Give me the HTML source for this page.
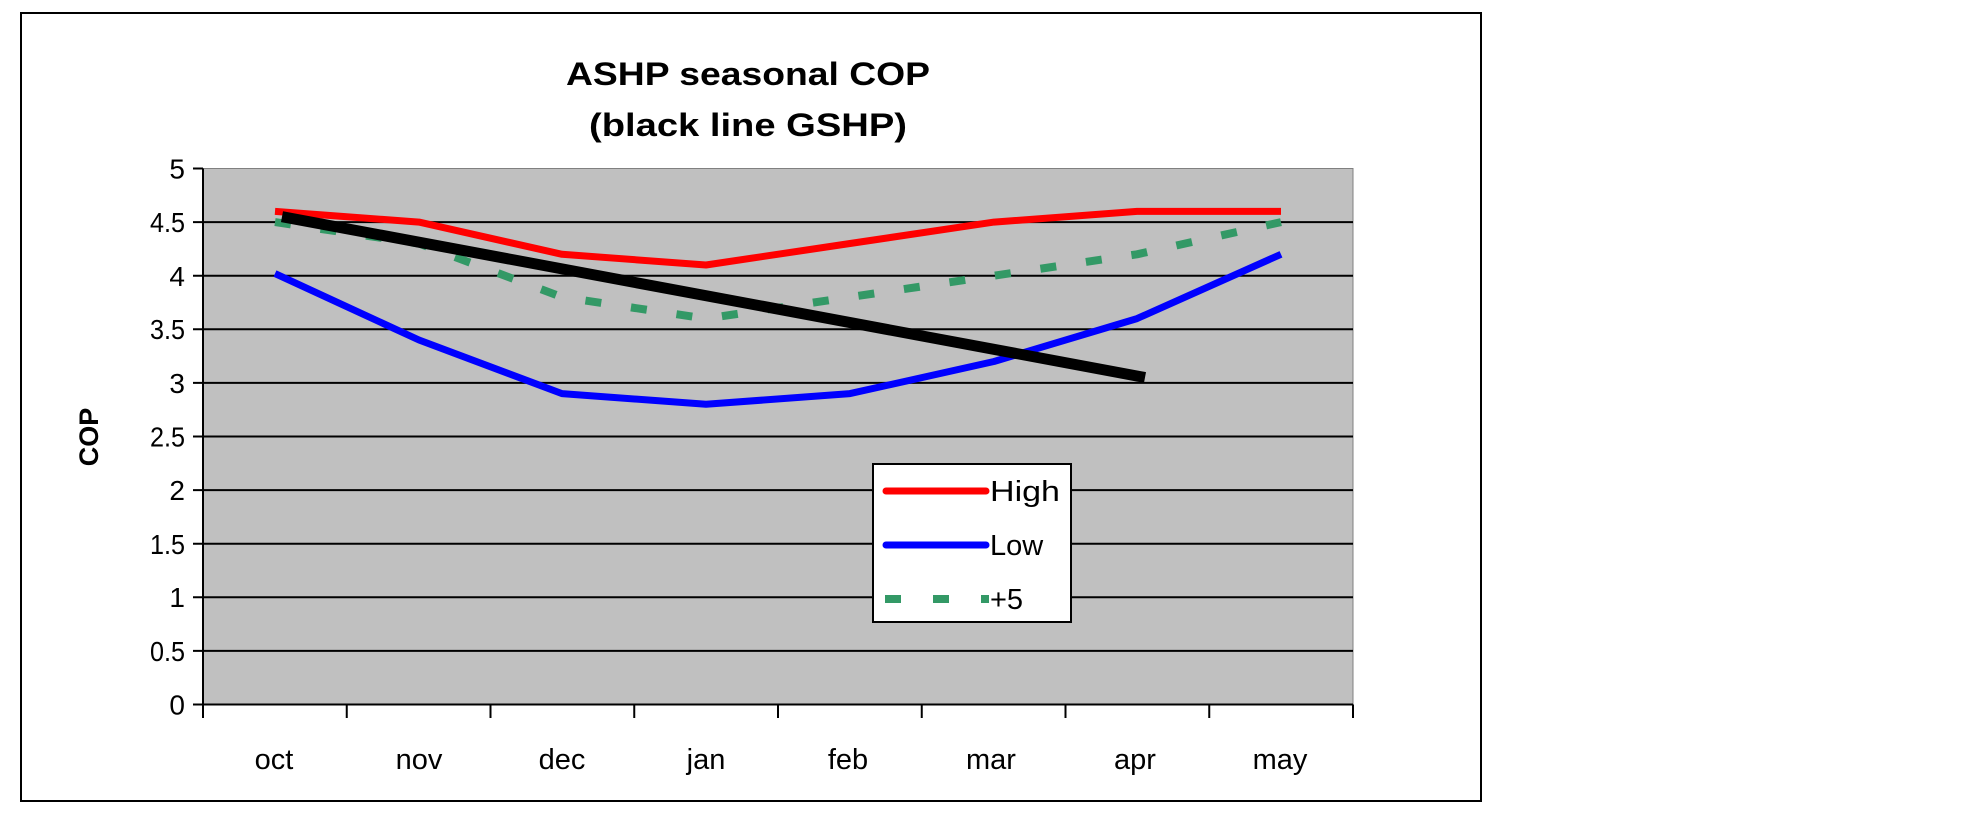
<!DOCTYPE html>
<html><head><meta charset="utf-8"><style>
html,body{margin:0;padding:0;background:#fff;}
svg{display:block;font-family:"Liberation Sans",sans-serif;}
</style></head><body>
<svg width="1976" height="822" viewBox="0 0 1976 822" xmlns="http://www.w3.org/2000/svg">
<rect x="0" y="0" width="1976" height="822" fill="#fff"/>
<rect x="21" y="13" width="1460" height="788" fill="#fff" stroke="#000" stroke-width="2"/>
<text x="748" y="85" font-size="32" font-weight="bold" text-anchor="middle" textLength="364" lengthAdjust="spacingAndGlyphs">ASHP seasonal COP</text>
<text x="748" y="136" font-size="32" font-weight="bold" text-anchor="middle" textLength="318" lengthAdjust="spacingAndGlyphs">(black line GSHP)</text>
<rect x="203" y="168.5" width="1150" height="536" fill="#c0c0c0" stroke="#808080" stroke-width="1"/>
<g stroke="#000" stroke-width="2">
<line x1="193" y1="704.5" x2="1353" y2="704.5"/>
<line x1="193" y1="650.9" x2="1353" y2="650.9"/>
<line x1="193" y1="597.3" x2="1353" y2="597.3"/>
<line x1="193" y1="543.7" x2="1353" y2="543.7"/>
<line x1="193" y1="490.1" x2="1353" y2="490.1"/>
<line x1="193" y1="436.5" x2="1353" y2="436.5"/>
<line x1="193" y1="382.9" x2="1353" y2="382.9"/>
<line x1="193" y1="329.3" x2="1353" y2="329.3"/>
<line x1="193" y1="275.7" x2="1353" y2="275.7"/>
<line x1="193" y1="222.1" x2="1353" y2="222.1"/>
<line x1="193" y1="168.5" x2="203" y2="168.5"/>
<line x1="203" y1="168.5" x2="203" y2="718"/>
<line x1="346.75" y1="704.5" x2="346.75" y2="718"/>
<line x1="490.5" y1="704.5" x2="490.5" y2="718"/>
<line x1="634.25" y1="704.5" x2="634.25" y2="718"/>
<line x1="778" y1="704.5" x2="778" y2="718"/>
<line x1="921.75" y1="704.5" x2="921.75" y2="718"/>
<line x1="1065.5" y1="704.5" x2="1065.5" y2="718"/>
<line x1="1209.25" y1="704.5" x2="1209.25" y2="718"/>
<line x1="1353" y1="704.5" x2="1353" y2="718"/>
</g>
<g font-size="28" text-anchor="end" fill="#000">
<text x="185" y="714.5">0</text><text x="185" y="661" textLength="35" lengthAdjust="spacingAndGlyphs">0.5</text><text x="185" y="607">1</text>
<text x="185" y="554" textLength="35" lengthAdjust="spacingAndGlyphs">1.5</text><text x="185" y="500">2</text><text x="185" y="446.5" textLength="35" lengthAdjust="spacingAndGlyphs">2.5</text>
<text x="185" y="393">3</text><text x="185" y="339" textLength="35" lengthAdjust="spacingAndGlyphs">3.5</text><text x="185" y="286">4</text>
<text x="185" y="232" textLength="35" lengthAdjust="spacingAndGlyphs">4.5</text><text x="185" y="178.5">5</text>
</g>
<text transform="translate(98,437) rotate(-90)" font-size="27" font-weight="bold" text-anchor="middle">COP</text>
<g font-size="29" text-anchor="middle">
<text x="274" y="769">oct</text><text x="419" y="769">nov</text><text x="562" y="769">dec</text>
<text x="706" y="769">jan</text><text x="848" y="769">feb</text><text x="991" y="769">mar</text>
<text x="1135" y="769">apr</text><text x="1280" y="769">may</text>
</g>
<g fill="none" stroke-linejoin="round">
<polyline stroke="#339966" stroke-width="8" stroke-dasharray="16,30" points="275,222.1 419,243.5 562,297.1 706,318.6 850,297.1 994,275.7 1137,254.3 1281,222.1"/>
<polyline stroke="#ff0000" stroke-width="7" points="275,211.4 419,222.1 562,254.3 706,265 850,243.5 994,222.1 1137,211.4 1281,211.4"/>
<polyline stroke="#0000ff" stroke-width="7" points="275,273.6 419,340 562,393.6 706,404.3 850,393.6 994,361.5 1137,318.6 1281,254.3"/>
<line x1="282" y1="216.7" x2="1145" y2="377.5" stroke="#000" stroke-width="11"/>
</g>
<rect x="873" y="464" width="198" height="158" fill="#fff" stroke="#000" stroke-width="2"/>
<line x1="886" y1="491" x2="986" y2="491" stroke="#ff0000" stroke-width="7" stroke-linecap="round"/>
<line x1="886" y1="545" x2="986" y2="545" stroke="#0000ff" stroke-width="7" stroke-linecap="round"/>
<line x1="885" y1="599" x2="989" y2="599" stroke="#339966" stroke-width="8" stroke-dasharray="16,32"/>
<g font-size="29"><text x="990" y="501" textLength="70" lengthAdjust="spacingAndGlyphs">High</text><text x="990" y="555">Low</text><text x="990" y="609">+5</text></g>
</svg>
</body></html>
